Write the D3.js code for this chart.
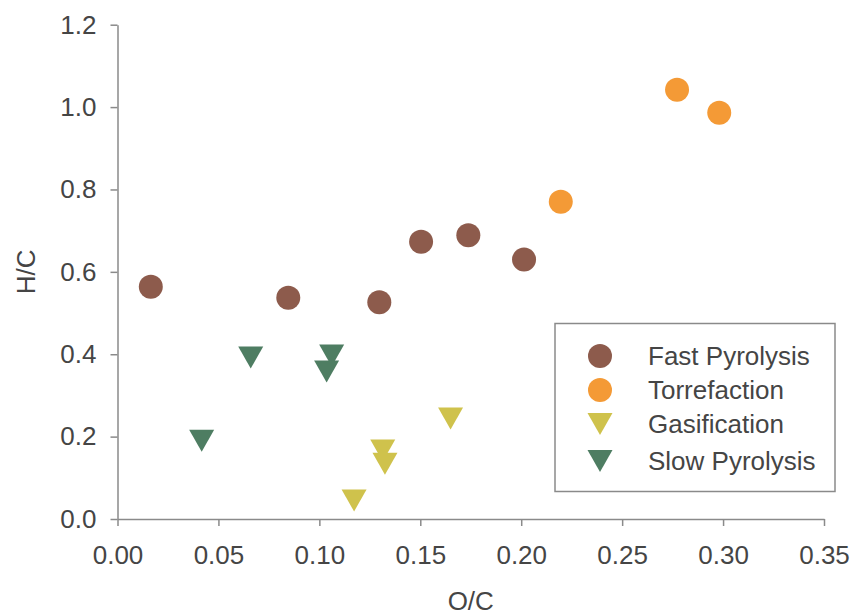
<!DOCTYPE html>
<html>
<head>
<meta charset="utf-8">
<script src="https://cdn.jsdelivr.net/npm/d3@7/dist/d3.min.js"></script>
<style>
  body { margin: 0; background: #fff; }
  svg { display: block; font-family: "Liberation Sans", Arial, sans-serif; }
</style>
</head>
<body>
<svg id="chart" width="854" height="616"></svg>
<script>
// H/C vs O/C atomic ratios for biochars by production process
const fastPyrolysisOC = [0.0165, 0.0846, 0.1297, 0.1504, 0.1738, 0.2014];
const fastPyrolysisHC = [0.564, 0.537, 0.526, 0.673, 0.689, 0.630];
const torrefactionOC = [0.2196, 0.2772, 0.2981];
const torrefactionHC = [0.770, 1.042, 0.986];
const gasificationOC = [0.1172, 0.1314, 0.1325, 0.1650];
const gasificationHC = [0.045, 0.166, 0.134, 0.244];
const slowPyrolysisOC = [0.0417, 0.0660, 0.1061, 0.1036];
const slowPyrolysisHC = [0.190, 0.392, 0.397, 0.358];

const xTicks = [0, 0.05, 0.10, 0.15, 0.20, 0.25, 0.30, 0.35];
const yTicks = [0, 0.2, 0.4, 0.6, 0.8, 1.0, 1.2];

const series = [
  { name: "Fast Pyrolysis", x: fastPyrolysisOC, y: fastPyrolysisHC, shape: "circle", color: "#8d5b4c" },
  { name: "Torrefaction", x: torrefactionOC, y: torrefactionHC, shape: "circle", color: "#f49a36" },
  { name: "Gasification", x: gasificationOC, y: gasificationHC, shape: "triangle", color: "#cfc24c" },
  { name: "Slow Pyrolysis", x: slowPyrolysisOC, y: slowPyrolysisHC, shape: "triangle", color: "#4e7d62" }
];

const svg = d3.select("#chart");
const plotLeft = 117.5, plotRight = 824, plotTop = 24.7, plotBottom = 519;
const x = d3.scaleLinear().domain([0, 0.35]).range([plotLeft, plotRight]);
const y = d3.scaleLinear().domain([0, 1.2]).range([plotBottom, plotTop]);

const axisColor = "#8a8a8a";
const textColor = "#454545";

// Axes
const xAxis = svg.append("g")
  .attr("transform", `translate(0,${plotBottom})`)
  .call(d3.axisBottom(x).tickValues(xTicks).tickFormat(d3.format(".2f")).tickSize(7).tickSizeOuter(0).tickPadding(20));
const yAxis = svg.append("g")
  .attr("transform", `translate(${plotLeft},0)`)
  .call(d3.axisLeft(y).tickValues(yTicks).tickFormat(d3.format(".1f")).tickSize(7).tickSizeOuter(0).tickPadding(14));

[xAxis, yAxis].forEach(g => {
  g.select(".domain").attr("stroke", axisColor).attr("stroke-width", 1.5);
  g.selectAll(".tick line").attr("stroke", axisColor).attr("stroke-width", 1.5);
  g.selectAll(".tick text").attr("fill", textColor).style("font-size", "26px");
});

// Axis titles
svg.append("text")
  .attr("x", (plotLeft + plotRight) / 2).attr("y", 610)
  .attr("text-anchor", "middle").attr("fill", textColor).style("font-size", "26px")
  .text("O/C");
svg.append("text")
  .attr("transform", `translate(35,${(plotTop + plotBottom) / 2}) rotate(-90)`)
  .attr("text-anchor", "middle").attr("fill", textColor).style("font-size", "26px")
  .text("H/C");

// Marker shapes: circle of radius 12, downward triangle 25 wide by 22 tall
function drawMarker(g, shape, color) {
  if (shape === "circle") {
    g.append("circle").attr("r", 12).attr("fill", color);
  } else {
    g.append("path").attr("d", "M-12.5,-11L12.5,-11L0,11Z").attr("fill", color);
  }
}

// Points
series.forEach(s => {
  const pts = s.x.map((v, i) => [v, s.y[i]]);
  svg.append("g").selectAll("g").data(pts).join("g")
    .attr("transform", d => `translate(${x(d[0])},${y(d[1])})`)
    .each(function () { drawMarker(d3.select(this), s.shape, s.color); });
});

// Legend
const legend = svg.append("g");
legend.append("rect")
  .attr("x", 555).attr("y", 323.5).attr("width", 280).attr("height", 168)
  .attr("fill", "#fff").attr("stroke", axisColor).attr("stroke-width", 1.5);
const rowY = [356, 390, 424, 461];
series.forEach((s, i) => {
  const row = legend.append("g").attr("transform", `translate(600,${rowY[i]})`);
  drawMarker(row, s.shape, s.color);
  row.append("text").attr("x", 48).attr("dy", "0.35em")
    .attr("fill", textColor).style("font-size", "26px").text(s.name);
});
</script>
</body>
</html>
